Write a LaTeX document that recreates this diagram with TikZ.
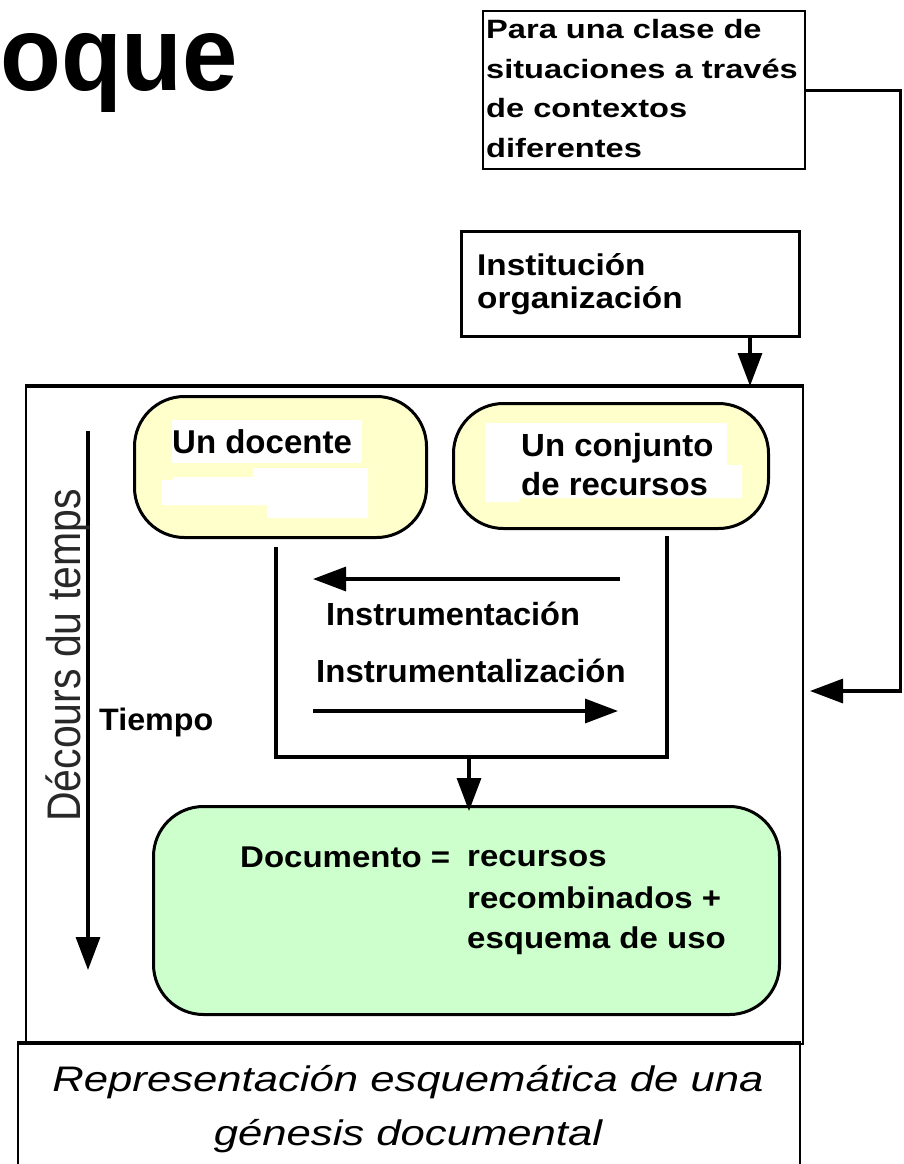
\documentclass[tikz,border=0pt]{standalone}
\usepackage{fontspec}
\setmainfont{Liberation Sans}
\usepackage{graphicx}
\usetikzlibrary{arrows.meta}
\newcommand{\sx}[2]{\scalebox{#1}[1]{#2}}
\definecolor{ylw}{RGB}{255,255,204}
\definecolor{grn}{RGB}{204,255,204}
\definecolor{gry}{RGB}{40,40,40}
\begin{document}
\begin{tikzpicture}[x=1pt,y=1pt,
  txt/.style={inner sep=0pt, anchor=base west},
  fb/.style={font=\fontsize{#1}{#1}\selectfont\bfseries},
  bx/.style={draw, line width=2.2pt, inner sep=0pt, anchor=north west},
  rbox/.style={draw, line width=3pt, rounded corners=50pt, inner sep=0pt, anchor=north west},
  arr/.style={line width=3.2pt, -{Triangle[width=24pt,length=33pt]}},
  ln/.style={line width=3.5pt},
  captxt/.style={inner sep=0pt, anchor=base, font=\fontsize{35.5}{35.5}\selectfont\itshape}
]
\useasboundingbox (0,0) rectangle (904,-1164);
\clip (0,0) rectangle (904,-1164);

% title
\node[txt, fb=106] (title) at (0,-90) {\sx{0.94}{oque}};

% top box
\node[bx, minimum width=322pt, minimum height=158pt] (para) at (482,-10) {};
\node[txt, fb=26.5] (p1) at (486,-39) {\sx{1.23}{Para una clase de}};
\node[txt, fb=26.5] (p2) at (486,-78.3) {\sx{1.23}{situaciones a través}};
\node[txt, fb=26.5] (p3) at (486,-117.6) {\sx{1.23}{de contextos}};
\node[txt, fb=26.5] (p4) at (486,-157) {\sx{1.23}{diferentes}};

% institution box
\node[bx, line width=3pt, minimum width=338pt, minimum height=105pt] (inst) at (460,-230) {};
\node[txt, fb=30] (i1) at (477,-275) {\sx{1.11}{Institución}};
\node[txt, fb=30] (i2) at (477,-308) {\sx{1.11}{organización}};

% caption box and outer box
\node[bx, minimum width=782pt, minimum height=140pt] (capbox) at (17,-1043) {};
\node[bx, minimum width=777pt, minimum height=657pt] (outer) at (25,-386) {};
\draw[line width=3.2pt] (outer.north west) -- (outer.north east);
\draw[line width=4.5pt] (capbox.north west) -- (capbox.north east);

% yellow boxes
\node[rbox, fill=ylw, minimum width=292pt, minimum height=141pt] (docente) at (133,-395) {};
\node[rbox, fill=ylw, minimum width=315pt, minimum height=125pt] (conjunto) at (452,-402) {};
\fill[white] (172,-420) rectangle (362,-463);
\fill[white] (162,-480) -- (173,-480) -- (173,-477) -- (253,-477) -- (253,-468) -- (368,-468)
  -- (368,-518) -- (267,-518) -- (267,-505) -- (162,-505) -- cycle;
\fill[white] (485,-423) -- (727,-423) -- (727,-465) -- (742,-465) -- (742,-498) -- (520,-498)
  -- (520,-502) -- (485,-502) -- cycle;
\node[txt, fb=33] (t1) at (172,-453) {Un docente};
\node[txt, fb=32] (t2) at (521,-456) {\sx{1.03}{Un conjunto}};
\node[txt, fb=32] (t3) at (521,-495) {\sx{1.03}{de recursos}};

% green box
\node[rbox, fill=grn, minimum width=626pt, minimum height=208pt] (doc) at (152,-805) {};
\node[txt, fb=30] (d1) at (240,-867) {\sx{1.1}{Documento =}};
\node[txt, fb=30] (d2) at (467,-866) {\sx{1.1}{recursos}};
\node[txt, fb=30] (d3) at (467,-908) {\sx{1.1}{recombinados +}};
\node[txt, fb=30] (d4) at (467,-948) {\sx{1.1}{esquema de uso}};

% U-shaped frame
\coordinate (uL) at (276,-547);
\coordinate (uBL) at (276,-757);
\coordinate (uR) at (667,-536);
\draw[ln] (uL) -- (uBL) -| (uR);
\coordinate (uM) at (469,-757);
\draw[arr] (uM) -- ([yshift=-6pt]doc.north -| uM);

% instrumentation arrows
\coordinate (a1s) at (620,-579);
\coordinate (a1e) at (313,-579);
\draw[arr] (a1s) -- (a1e);
\coordinate (a2s) at (313,-711);
\coordinate (a2e) at (618,-711);
\draw[arr] (a2s) -- (a2e);
\node[txt, fb=32] (ins1) at (326,-625) {\sx{1.02}{Instrumentación}};
\node[txt, fb=32] (ins2) at (316,-682) {\sx{1.03}{Instrumentalización}};

% time axis
\coordinate (tA) at (88,-431);
\coordinate (tB) at (88,-970);
\draw[arr] (tA) -- (tB);
\node[txt, fb=31] (tiempo) at (99,-730) {\sx{1.04}{Tiempo}};
\node[txt, rotate=90, font=\fontsize{41}{41}\selectfont, text=gry] (decours) at (80,-822)
  {\scalebox{1}[1.15]{Décours du temps}};

% external connectors
\coordinate (rc) at (810,-691);
\draw[arr] (para.east) -- ++(94,0) |- (rc);
\coordinate (ia) at (750,0);
\draw[arr] (inst.south -| ia) -- (outer.north -| ia);

% caption
\node[captxt] (c1) at (408,-1091) {\sx{1.23}{Representación esquemática de una}};
\node[captxt] (c2) at (408,-1145) {\sx{1.23}{génesis documental}};
\end{tikzpicture}
\end{document}
